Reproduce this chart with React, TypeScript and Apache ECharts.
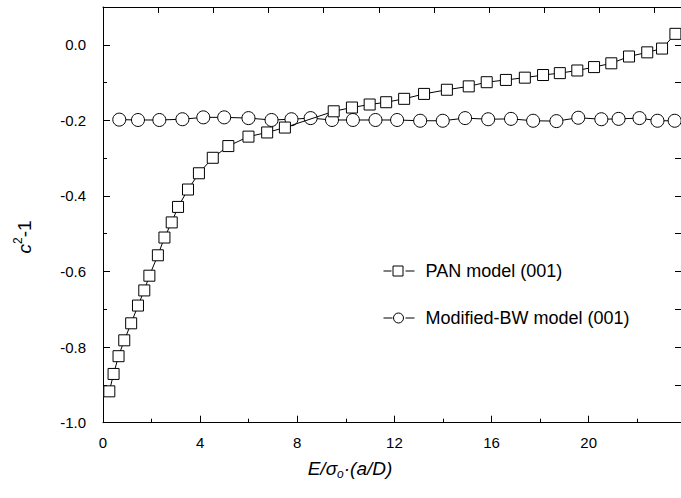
import React, { useEffect, useRef } from 'react';
import * as echarts from 'echarts';

const FONT = '"Liberation Sans", Arial, Helvetica, sans-serif';

// PAN model (001) — squares
const panX = [0.26, 0.435, 0.64, 0.875, 1.16, 1.44, 1.70, 1.91, 2.26, 2.53, 2.83, 3.09, 3.50, 3.95, 4.52, 5.16, 5.99, 6.76, 7.49, 9.50, 10.25, 10.98, 11.66, 12.40, 13.22, 14.16, 15.06, 15.80, 16.59, 17.37, 18.12, 18.81, 19.53, 20.22, 20.93, 21.66, 22.41, 23.02, 23.57];
const panY = [-0.917, -0.871, -0.824, -0.782, -0.737, -0.690, -0.650, -0.611, -0.557, -0.510, -0.470, -0.429, -0.383, -0.340, -0.299, -0.268, -0.243, -0.232, -0.219, -0.176, -0.166, -0.158, -0.152, -0.143, -0.130, -0.119, -0.110, -0.099, -0.093, -0.087, -0.080, -0.075, -0.068, -0.059, -0.049, -0.031, -0.020, -0.010, 0.029];

// Modified-BW model (001) — circles
const bwX = [0.67, 1.44, 2.32, 3.27, 4.13, 4.99, 5.99, 6.94, 7.76, 8.55, 9.43, 10.29, 11.22, 12.11, 13.06, 13.99, 14.91, 15.86, 16.80, 17.71, 18.67, 19.57, 20.52, 21.23, 22.09, 22.83, 23.54];
const bwY = [-0.198, -0.199, -0.199, -0.197, -0.192, -0.192, -0.194, -0.199, -0.197, -0.194, -0.199, -0.199, -0.199, -0.199, -0.201, -0.201, -0.194, -0.197, -0.196, -0.201, -0.202, -0.193, -0.197, -0.196, -0.194, -0.201, -0.201];

const seriesNames = ['PAN model (001)', 'Modified-BW model (001)'];

const X_MIN = 0;
const X_MAX = 23.8;
const X_INTERVAL = 4;
const Y_MIN = -1.0;
const Y_MAX = 0.1;
const Y_MAJOR = 0.2;
const Y_MINOR = 0.1;

const black = '#000';

const ICON_SQUARE = 'path://M0,5H8M9.5,0H19.5V10H9.5ZM22,5H31';
const ICON_CIRCLE = 'path://M0,5H9M20,5A5,5,0,1,1,10,5A5,5,0,1,1,20,5ZM22,5H31';

function yLabel(v: number): string {
  const k = Math.round(v * 10);
  if (k % 2 !== 0) return '';
  if (Math.abs(v) < 1e-9) return '0.0';
  return v.toFixed(1);
}

export default function App() {
  const ref = useRef<HTMLDivElement>(null);
  useEffect(() => {
    const chart = echarts.init(ref.current!, null, { renderer: 'svg' });
    const markerStyle = { color: '#fff', borderColor: black, borderWidth: 1 };
    const line = { show: true, onZero: false, lineStyle: { color: black, width: 1 } };
    const option: any = {
      animation: false,
      backgroundColor: '#fff',
      grid: { left: 103, top: 7, width: 579.5, height: 415.7, containLabel: false },
      xAxis: [
        {
          type: 'value', position: 'bottom', min: X_MIN, max: X_MAX, interval: X_INTERVAL,
          axisLine: line,
          axisTick: { show: true, inside: true, length: 7, lineStyle: { color: black } },
          minorTick: { show: true, splitNumber: 2, length: 4, lineStyle: { color: black } },
          axisLabel: { color: black, fontSize: 15, fontFamily: FONT, margin: 12, showMaxLabel: false },
          splitLine: { show: false },
        },
        {
          type: 'value', position: 'top', min: 0, max: 10.48, interval: 1,
          axisLine: line,
          axisTick: { show: true, inside: true, length: 6, lineStyle: { color: black } },
          axisLabel: { show: false },
          splitLine: { show: false },
        },
      ],
      yAxis: [
        {
          type: 'value', position: 'left', min: Y_MIN, max: Y_MAX, interval: Y_MINOR,
          axisLine: line,
          axisTick: { show: true, inside: true, length: 4, lineStyle: { color: black } },
          axisLabel: { color: black, fontSize: 15, fontFamily: FONT, margin: 17, showMaxLabel: false, formatter: yLabel },
          splitLine: { show: false },
        },
        {
          type: 'value', position: 'left', min: Y_MIN, max: Y_MAX, interval: Y_MAJOR,
          axisLine: { show: false, onZero: false },
          axisTick: { show: true, inside: true, length: 7, lineStyle: { color: black } },
          axisLabel: { show: false },
          splitLine: { show: false },
        },
        {
          type: 'value', position: 'right', min: Y_MIN, max: Y_MAX, interval: Y_MINOR,
          axisLine: line,
          axisTick: { show: true, inside: true, length: 6, lineStyle: { color: black } },
          axisLabel: { show: false },
          splitLine: { show: false },
        },
      ],
      legend: {
        data: [
          { name: seriesNames[0], icon: ICON_SQUARE },
          { name: seriesNames[1], icon: ICON_CIRCLE },
        ],
        orient: 'vertical',
        left: 383,
        top: 261,
        padding: 0,
        itemWidth: 31,
        itemHeight: 10,
        itemGap: 27,
        itemStyle: { color: '#fff', borderColor: black, borderWidth: 1 },
        textStyle: { fontSize: 18, color: black, fontFamily: FONT, lineHeight: 20, padding: [0, 0, 0, 6] },
      },
      series: [
        {
          name: seriesNames[1], type: 'line', xAxisIndex: 0, yAxisIndex: 0,
          data: bwX.map((x, i) => [x, bwY[i]]),
          symbol: 'circle', symbolSize: 13, showAllSymbol: true,
          itemStyle: markerStyle, lineStyle: { color: black, width: 1 }, z: 2,
        },
        {
          name: seriesNames[0], type: 'line', xAxisIndex: 0, yAxisIndex: 0,
          data: panX.map((x, i) => [x, panY[i]]),
          symbol: 'rect', symbolSize: 11, showAllSymbol: true,
          itemStyle: markerStyle, lineStyle: { color: black, width: 1 }, z: 3,
        },
      ],
      graphic: [
        {
          type: 'text', x: 350, y: 468,
          style: {
            text: '{i|E/σ}{s|o}{i|·(a/D)}',
            align: 'center', verticalAlign: 'middle', textAlign: 'center', textVerticalAlign: 'middle',
            rich: {
              i: { fontStyle: 'italic', fontSize: 19, fontFamily: FONT, lineHeight: 24, fill: black, color: black },
              s: { fontStyle: 'italic', fontSize: 12, fontFamily: FONT, lineHeight: 12, verticalAlign: 'bottom', fill: black, color: black },
            },
          },
        },
        {
          type: 'text', x: 24, y: 237, rotation: Math.PI / 2,
          style: {
            text: '{i|c}{p|2}{n|-1}',
            align: 'center', verticalAlign: 'middle', textAlign: 'center', textVerticalAlign: 'middle',
            rich: {
              i: { fontStyle: 'italic', fontSize: 19, fontFamily: FONT, lineHeight: 24, fill: black, color: black },
              p: { fontSize: 12, fontFamily: FONT, lineHeight: 12, verticalAlign: 'top', fill: black, color: black },
              n: { fontSize: 19, fontFamily: FONT, lineHeight: 24, fill: black, color: black },
            },
          },
        },
      ],
    };
    chart.setOption(option);
    return () => chart.dispose();
  }, []);
  return (
    <div
      ref={ref}
      style={{ position: 'absolute', left: 0, top: 0, width: 681, height: 498, background: '#fff' }}
    />
  );
}
